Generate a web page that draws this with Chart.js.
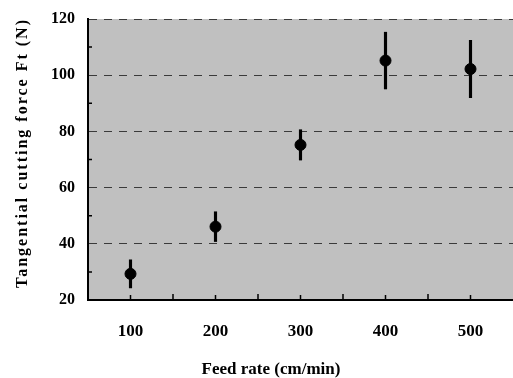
<!DOCTYPE html>
<html>
<head>
<meta charset="utf-8">
<script src="https://cdn.jsdelivr.net/npm/chart.js@4.4.0/dist/chart.umd.min.js"></script>
<style>
  html, body { margin: 0; padding: 0; background: #fff; }
  #wrap { width: 513px; height: 378px; }
</style>
</head>
<body>
<div id="wrap"><canvas id="chart"></canvas></div>
<script>
// data
const feedRates = ['100', '200', '300', '400', '500'];
const meanForce = [29.3, 46.1, 75.2, 105.2, 102.2];
const errForce = [5.0, 5.3, 5.4, 10.1, 10.2];
const yTicks = [20, 40, 60, 80, 100, 120];

const xTitle = 'Feed rate (cm/min)';
const yTitle = 'Tangential cutting force Ft (N)';

const FONT = '"Liberation Serif", "Times New Roman", serif';

// plot background, inward ticks and axis titles
const decorations = {
    id: 'decorations',
    beforeDraw(chart) {
        const { ctx, chartArea: a } = chart;
        ctx.save();
        ctx.fillStyle = '#c0c0c0';
        ctx.fillRect(a.left, a.top, a.right - a.left, a.bottom - a.top);
        ctx.restore();
    },
    afterDatasetsDraw(chart) {
        const { ctx, chartArea: a, scales } = chart;
        const x = scales.x, y = scales.y;
        ctx.save();
        ctx.strokeStyle = '#000';
        ctx.lineWidth = 1.5;
        ctx.beginPath();
        // minor y ticks half way between labels
        for (let i = 0; i < yTicks.length - 1; i++) {
            const py = y.getPixelForValue((yTicks[i] + yTicks[i + 1]) / 2);
            ctx.moveTo(a.left, py);
            ctx.lineTo(a.left + 4, py);
        }
        // x ticks at category centres and boundaries
        const step = x.getPixelForValue(1) - x.getPixelForValue(0);
        for (let i = 0; i < feedRates.length; i++) {
            const px = x.getPixelForValue(i);
            ctx.moveTo(px, a.bottom);
            ctx.lineTo(px, a.bottom - 5);
            if (i > 0) {
                ctx.moveTo(px - step / 2, a.bottom);
                ctx.lineTo(px - step / 2, a.bottom - 6);
            }
        }
        ctx.stroke();

        ctx.fillStyle = '#000';
        ctx.font = 'bold 17px ' + FONT;
        ctx.textAlign = 'center';
        ctx.textBaseline = 'middle';
        ctx.fillText(xTitle, 271, 370);

        ctx.translate(23, 154);
        ctx.rotate(-Math.PI / 2);
        ctx.font = 'bold 16px ' + FONT;
        const plain = ctx.measureText(yTitle).width;
        const spacing = (268 - plain) / (yTitle.length - 1);
        ctx.letterSpacing = spacing.toFixed(2) + 'px';
        ctx.textAlign = 'left';
        ctx.fillText(yTitle, -134, 0);
        ctx.restore();
    }
};

function noPadding(scale) {
    scale.paddingLeft = 0;
    scale.paddingRight = 0;
    scale.paddingTop = 0;
    scale.paddingBottom = 0;
}

function main() {
    const bars = meanForce.map((m, i) => [m - errForce[i], m + errForce[i]]);

    new Chart(document.getElementById('chart'), {
        type: 'bar',
        data: {
            labels: feedRates,
            datasets: [
                {
                    type: 'line',
                    data: meanForce,
                    showLine: false,
                    pointRadius: 5.5,
                    pointBackgroundColor: '#000',
                    pointBorderColor: '#000',
                    order: 0
                },
                {
                    type: 'bar',
                    data: bars,
                    backgroundColor: '#000',
                    barThickness: 2.5,
                    borderSkipped: false,
                    grouped: false,
                    order: 1
                }
            ]
        },
        options: {
            responsive: true,
            maintainAspectRatio: false,
            animation: false,
            layout: { autoPadding: false, padding: { top: 19, right: 0, left: 0, bottom: 0 } },
            plugins: {
                legend: { display: false },
                tooltip: { enabled: false }
            },
            scales: {
                x: {
                    offset: true,
                    grid: { display: false, drawTicks: false },
                    border: { color: '#000', width: 2 },
                    ticks: {
                        color: '#000',
                        padding: 21,
                        maxRotation: 0,
                        font: { family: FONT, size: 17, weight: 'bold' }
                    },
                    afterFit(scale) { scale.height = 78; noPadding(scale); }
                },
                y: {
                    min: 20,
                    max: 120,
                    afterBuildTicks(scale) {
                        scale.ticks = yTicks.map(v => ({ value: v }));
                    },
                    grid: {
                        drawTicks: false,
                        color: '#3a3a3a',
                        lineWidth: 1
                    },
                    border: { color: '#000', width: 2, dash: [8, 7] },
                    ticks: {
                        color: '#000',
                        padding: 13,
                        font: { family: FONT, size: 16, weight: 'bold' }
                    },
                    afterFit(scale) { scale.width = 88; noPadding(scale); }
                }
            }
        },
        plugins: [decorations]
    });
}

main();
</script>
</body>
</html>
